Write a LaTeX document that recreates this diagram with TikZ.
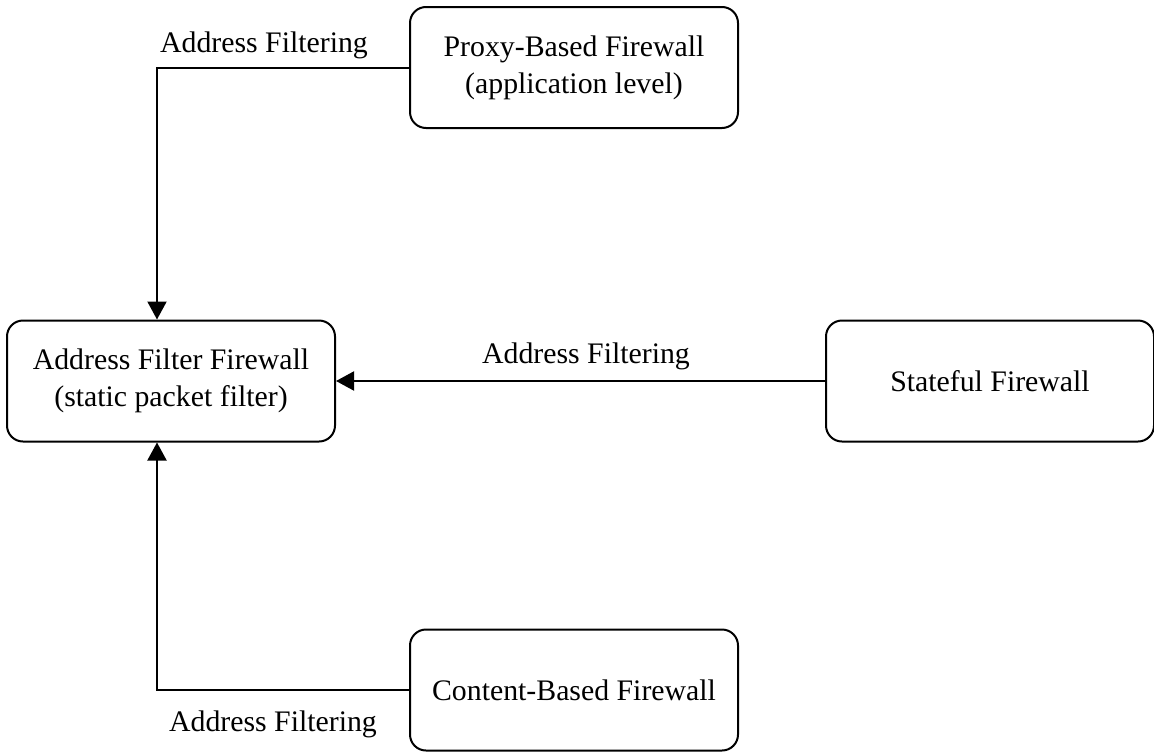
\documentclass[tikz,border=0pt]{standalone}
\usepackage{fontspec}
\setmainfont{Liberation Serif}
\usetikzlibrary{arrows.meta}
\usetikzlibrary{positioning}
\tikzset{fw/.style = {draw, line width = 1pt, rounded corners = 8pt,
                      minimum width = 164pt, minimum height = 60.5pt,
                      align = center, inner sep = 0,
                      font = \fontsize{14.9}{18.5}\selectfont}}
\tikzset{lbl/.style = {anchor = base, inner sep = 0,
                       font = \fontsize{14.9}{18.5}\selectfont}}
\tikzset{arr/.style = {line width = 1pt, -{Triangle[width = 9.5pt, length = 9pt]}}}

\begin{document}
\begin{tikzpicture}[x = 0.5pt, y = -0.5pt]
      \useasboundingbox (0, 0) rectangle (1154, 755);

      \node [fw] (proxy) at (574, 67.5) {Proxy-Based Firewall\\(application level)};
      \node [fw] (addr) at (171, 381) {Address Filter Firewall\\(static packet filter)};
      \node [fw] (state) at (990, 381) {Stateful Firewall};
      \node [fw] (content) at (574, 690) {Content-Based Firewall};

      \draw [arr] (proxy.west) -| ([xshift = -7pt]addr.north);
      \draw [arr] (state.west) -- (addr.east);
      \draw [arr] (content.west) -| ([xshift = -7pt]addr.south);

      \node [lbl] (ltop) at (264, 52) {Address Filtering};
      \node [lbl] (lmid) at (586, 363) {Address Filtering};
      \node [lbl] (lbot) at (273, 731) {Address Filtering};
    \end{tikzpicture}
\end{document}
